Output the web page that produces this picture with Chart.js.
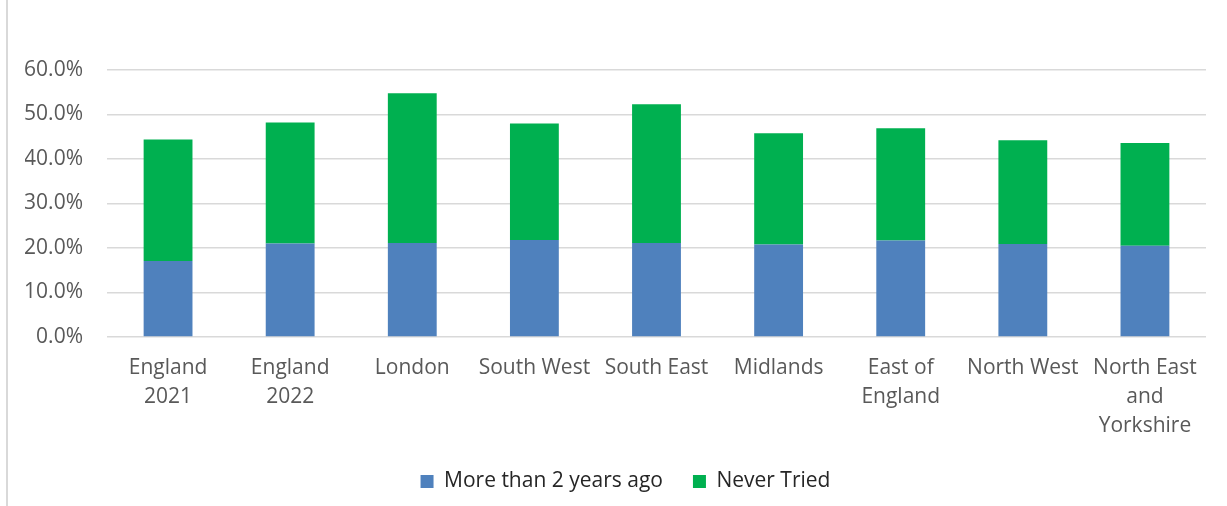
<!DOCTYPE html>
<html>
<head>
<meta charset="utf-8">
<script src="https://cdn.jsdelivr.net/npm/chart.js@4/dist/chart.umd.min.js"></script>
<style>
  html, body { margin: 0; padding: 0; background: #ffffff; }
  #wrap { position: relative; width: 1227px; height: 506px; }
  #frame { position: absolute; left: 6px; top: 0; width: 2px; height: 506px; background: #D9D9D9; }
  canvas { position: absolute; left: 0; top: 0; }
</style>
</head>
<body>
<div id="wrap">
  <div id="frame"></div>
  <canvas id="chart" width="1227" height="506"></canvas>
</div>
<script>
// Regions, with multi-line labels split into lines
const categories = [
  ["England", "2021"],
  ["England", "2022"],
  "London",
  "South West",
  "South East",
  "Midlands",
  ["East of", "England"],
  "North West",
  ["North East", "and", "Yorkshire"]
];

// Share of respondents (%) by when they last tried
const moreThan2YearsAgo = [17.1, 21.0, 21.1, 21.8, 21.1, 20.8, 21.7, 20.9, 20.5];
const neverTried        = [27.3, 27.2, 33.7, 26.2, 31.2, 25.0, 25.2, 23.3, 23.1];

const seriesNames = ["More than 2 years ago", "Never Tried"];
const yTicks = [0, 10, 20, 30, 40, 50, 60];

const textColor = "#595959";
const fontFamily = "'Open Sans', 'DejaVu Sans', sans-serif";

new Chart(document.getElementById("chart"), {
  type: "bar",
  data: {
    labels: categories,
    datasets: [
      {
        label: seriesNames[0],
        data: moreThan2YearsAgo,
        backgroundColor: "#4F81BD",
        barPercentage: 0.4,
        categoryPercentage: 1.0
      },
      {
        label: seriesNames[1],
        data: neverTried,
        backgroundColor: "#00B050",
        barPercentage: 0.4,
        categoryPercentage: 1.0
      }
    ]
  },
  options: {
    responsive: false,
    animation: false,
    layout: { padding: { top: 70, right: 1, bottom: 4, left: 25 } },
    plugins: {
      tooltip: { enabled: false },
      legend: {
        position: "bottom",
        labels: {
          color: "#262626",
          font: { family: fontFamily, size: 21 },
          boxWidth: 13,
          boxHeight: 13,
          padding: 30
        }
      }
    },
    scales: {
      x: {
        stacked: true,
        afterFit: (axis) => { axis.height = 104; },
        grid: { display: false, drawTicks: false },
        border: { display: false },
        ticks: {
          color: textColor,
          font: { family: fontFamily, size: 21, lineHeight: 1.38 },
          padding: 17,
          maxRotation: 0,
          autoSkip: false
        }
      },
      y: {
        stacked: true,
        min: 0,
        max: 60,
        afterBuildTicks: (axis) => { axis.ticks = yTicks.map(v => ({ value: v })); },
        afterFit: (axis) => { axis.width = 82; },
        grid: { color: "#D9D9D9", lineWidth: 1.5, drawTicks: false },
        border: { display: false },
        ticks: {
          color: textColor,
          font: { family: fontFamily, size: 21 },
          padding: 24,
          callback: (v) => v.toFixed(1) + "%"
        }
      },
      // empty right-hand margin beside the plot
      yRight: {
        position: "right",
        afterFit: (axis) => { axis.width = 20; },
        grid: { display: false, drawTicks: false },
        border: { display: false },
        ticks: { display: false }
      }
    }
  }
});
</script>
</body>
</html>
